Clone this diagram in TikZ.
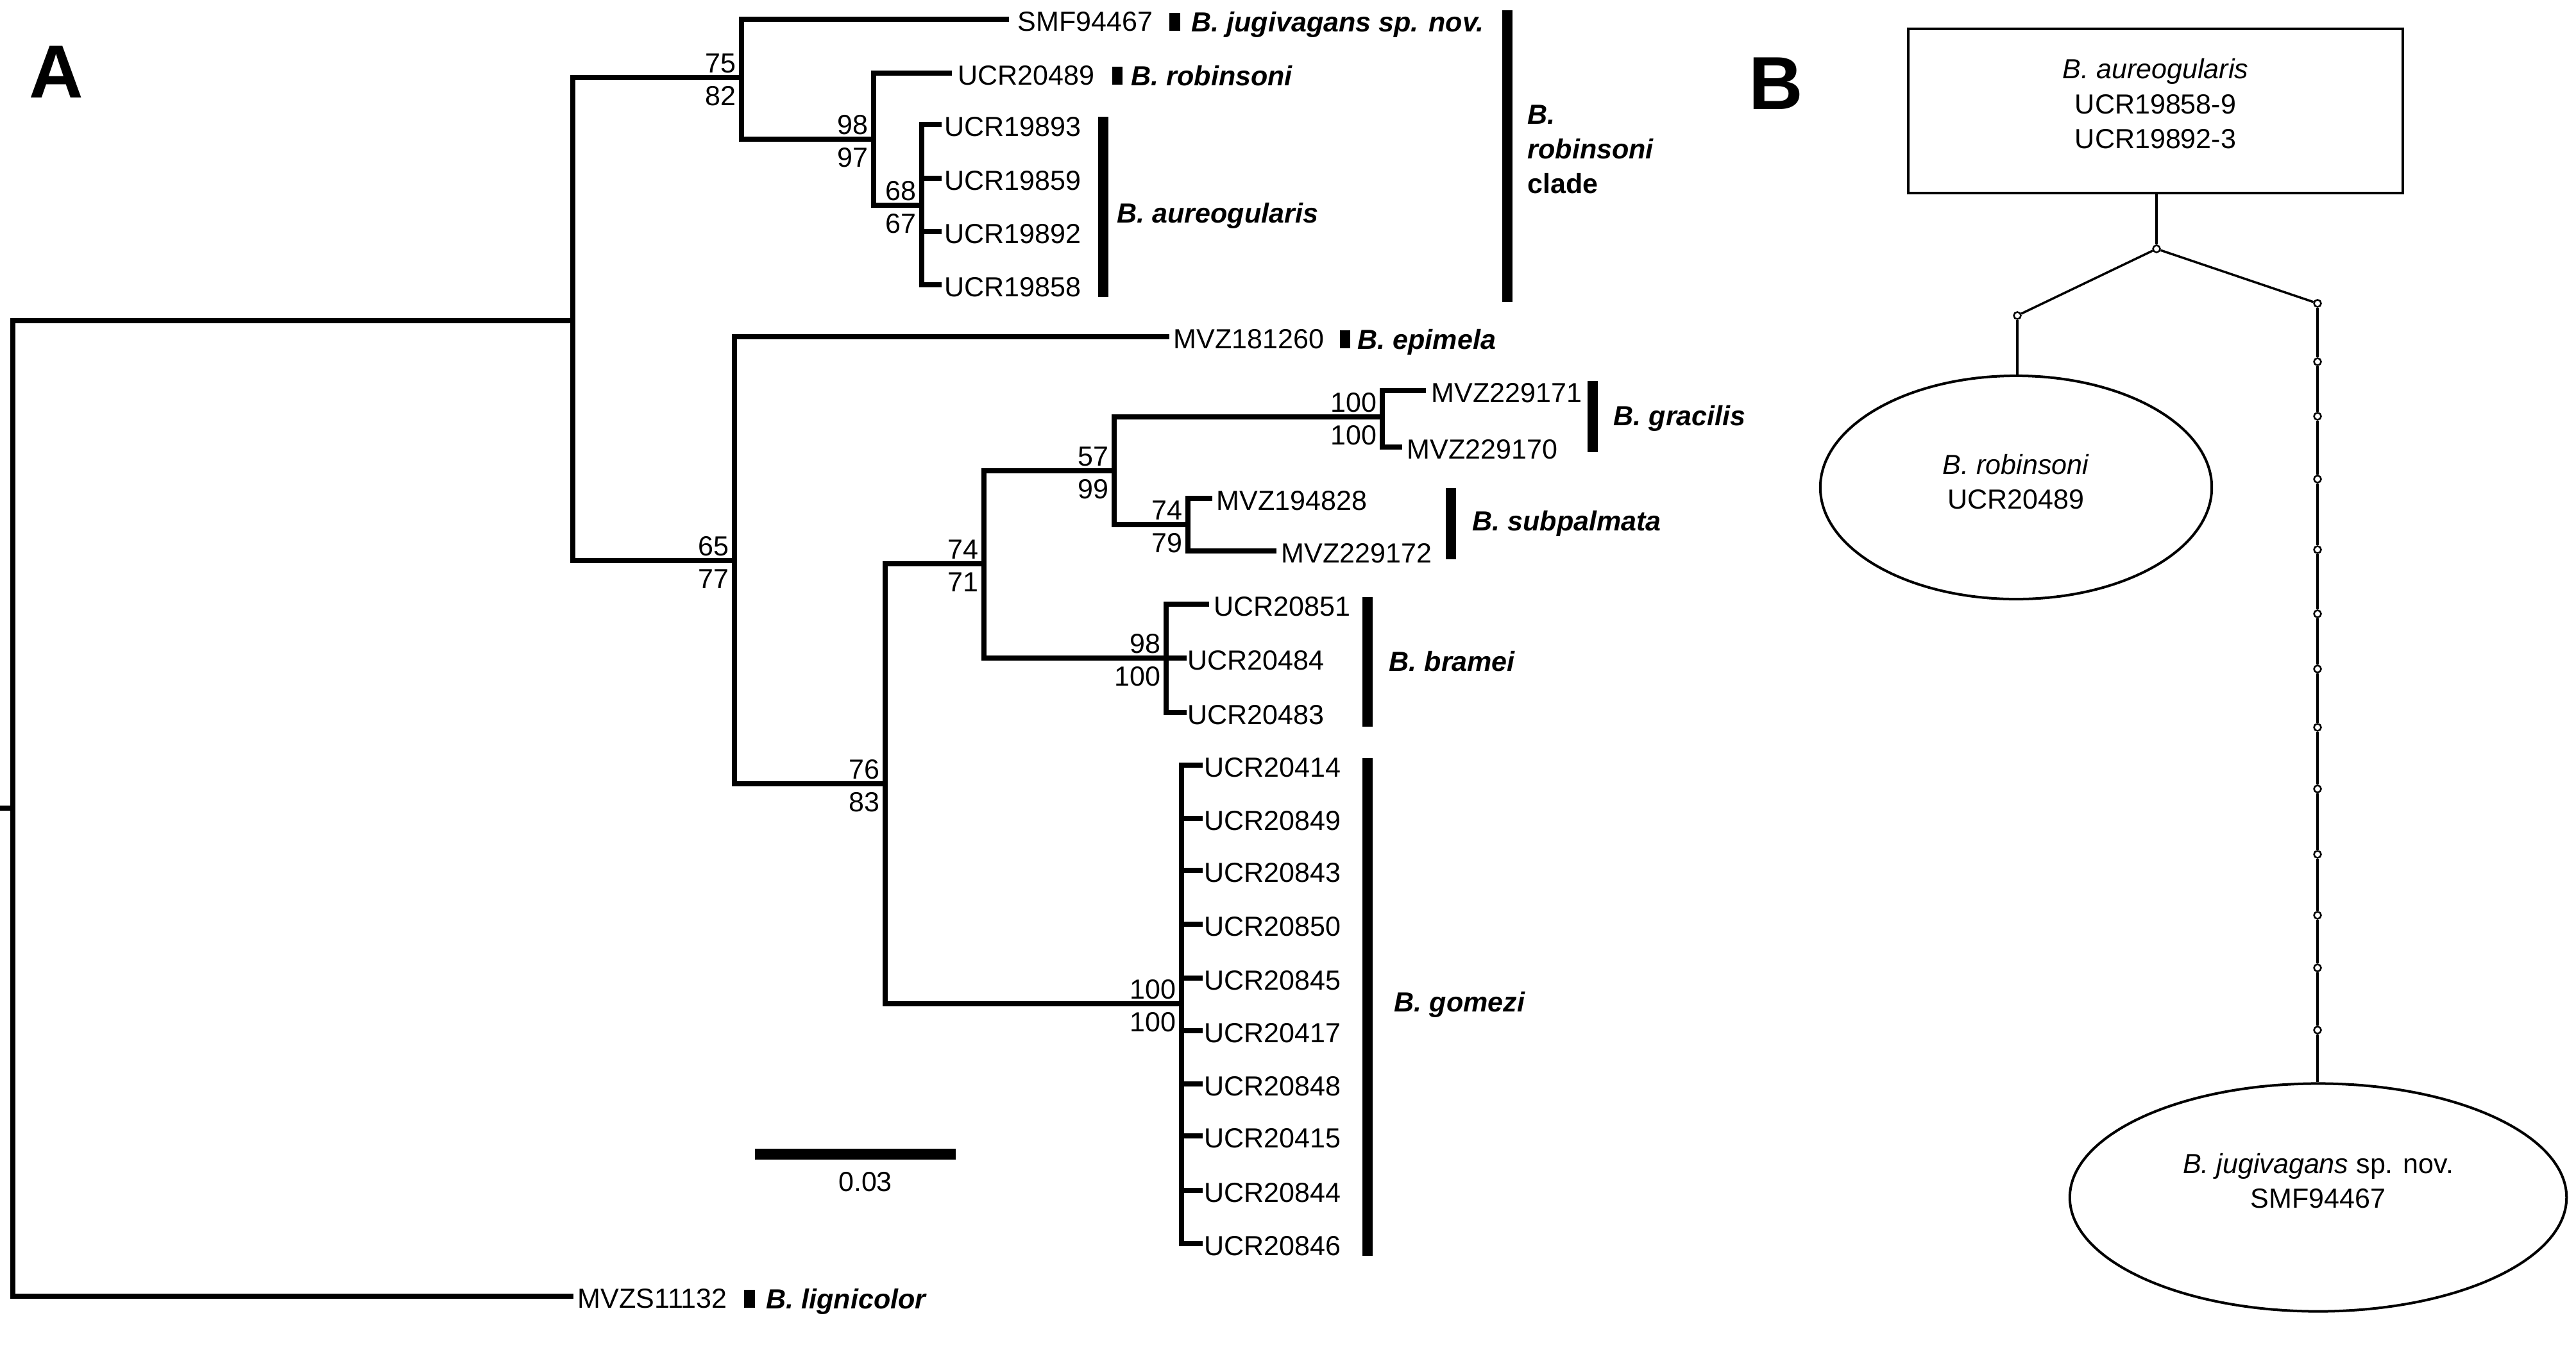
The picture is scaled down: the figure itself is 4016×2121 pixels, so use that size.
\documentclass[tikz,border=0pt]{standalone}
\usepackage{fontspec}
\setmainfont{Liberation Sans}
\usetikzlibrary{shapes.geometric}
\newcommand{\bsv}[5]{%
  \node[supu] (#1u) at (#2-8,#3-8) {#4};
  \node[supu] (#1d) at (#2-8,#3+43) {#5};}
\begin{document}
\begin{tikzpicture}[x=0.01cm,y=-0.01cm,
  br/.style={line width=0.08cm, line join=miter},
  cbar/.style={line width=0.16cm},
  tx/.style={inner sep=0, font=\fontsize{12.24pt}{15.4pt}\selectfont},
  leafl/.style={tx, anchor=base west},
  spl/.style={inner sep=0, anchor=base west, font=\fontsize{12.24pt}{15.4pt}\selectfont\bfseries\itshape},
  supu/.style={tx, anchor=base east},
  panel/.style={inner sep=0, anchor=base west, font=\fontsize{33.3pt}{40pt}\selectfont\bfseries},
  thinl/.style={line width=0.035cm},
  hap/.style={circle, draw, line width=0.025cm, fill=white, inner sep=0, minimum size=0.11cm},
  hapbox/.style={draw, line width=0.04cm, inner sep=0, align=center, font=\fontsize{12.24pt}{15.4pt}\selectfont},
  hapell/.style={ellipse, draw, line width=0.04cm, inner sep=0, align=center, font=\fontsize{12.24pt}{15.4pt}\selectfont}
]
\useasboundingbox (0,0) rectangle (4016,2121);

% ---------------- Panel A ----------------
\node[panel] (labA) at (45,152) {A};

% internal nodes
\coordinate (r0) at (0,1260);
\coordinate (root) at (20,1260);
\coordinate (n1) at (893,500);
\coordinate (n2) at (1156,121);
\coordinate (n3) at (1362,217);
\coordinate (n4) at (1437,320);
\coordinate (nl) at (1145,874);
\coordinate (n76) at (1380,1222);
\coordinate (n74) at (1534,879);
\coordinate (n57) at (1737,734);
\coordinate (ngr) at (2155,650);
\coordinate (nsu) at (1852,818);
\coordinate (nbr) at (1818,1026);
\coordinate (ngo) at (1842,1565);

% leaf ends
\coordinate (elig) at (894,2021);
\coordinate (esmf) at (1573,30);
\coordinate (erob) at (1484,114);
\coordinate (eepi) at (1823,525);
\coordinate (eg1) at (2223,609);
\coordinate (eg2) at (2186,697);
\coordinate (es1) at (1890,777);
\coordinate (es2) at (1990,859);
\coordinate (eb1) at (1885,942);
\coordinate (eb2) at (1850,1026);
\coordinate (eb3) at (1850,1111);

% branches
\draw[br] (r0) -- (root);
\draw[br] (root) |- (n1);
\draw[br] (root) |- (elig);
\draw[br] (n1) |- (n2);
\draw[br] (n1) |- (nl);
\draw[br] (n2) |- (esmf);
\draw[br] (n2) |- (n3);
\draw[br] (n3) |- (erob);
\draw[br] (n3) |- (n4);
\draw[br] (nl) |- (eepi);
\draw[br] (nl) |- (n76);
\draw[br] (n76) |- (n74);
\draw[br] (n76) |- (ngo);
\draw[br] (n74) |- (n57);
\draw[br] (n74) |- (nbr);
\draw[br] (n57) |- (ngr);
\draw[br] (n57) |- (nsu);
\draw[br] (ngr) |- (eg1);
\draw[br] (ngr) |- (eg2);
\draw[br] (nsu) |- (es1);
\draw[br] (nsu) |- (es2);
\draw[br] (nbr) |- (eb1);
\draw[br] (nbr) -- (eb2);
\draw[br] (nbr) |- (eb3);

% aureogularis leaves
\foreach \yy/\nm [count=\i] in {194/UCR19893,278/UCR19859,361/UCR19892,444/UCR19858}{
  \coordinate (ea\i) at (1468,\yy);
  \draw[br] (n4) |- (ea\i);
  \node[leafl] (la\i) at (1472,\yy+18) {\nm};
}
% gomezi leaves
\foreach \yy/\nm [count=\i] in {1193/UCR20414,1276/UCR20849,1357/UCR20843,1441/UCR20850,1525/UCR20845,1607/UCR20417,1690/UCR20848,1771/UCR20415,1856/UCR20844,1939/UCR20846}{
  \coordinate (ego\i) at (1875,\yy);
  \draw[br] (ngo) |- (ego\i);
  \node[leafl] (lgo\i) at (1877,\yy+18) {\nm};
}

% leaf labels
\node[leafl] (lsmf) at (1586,48) {SMF94467};
\node[leafl] (lrob) at (1493,132) {UCR20489};
\node[leafl] (lepi) at (1829,543) {MVZ181260};
\node[leafl] (lg1) at (2231,627) {MVZ229171};
\node[leafl] (lg2) at (2193,715) {MVZ229170};
\node[leafl] (ls1) at (1896,795) {MVZ194828};
\node[leafl] (ls2) at (1997,877) {MVZ229172};
\node[leafl] (lb1) at (1892,960) {UCR20851};
\node[leafl] (lb2) at (1851,1044) {UCR20484};
\node[leafl] (lb3) at (1851,1129) {UCR20483};
\node[leafl] (llig) at (900,2039) {MVZS11132};

% single-sample species markers
\fill (1823,20) rectangle (1840,48);
\fill (1734,104) rectangle (1750,132);
\fill (2089,515) rectangle (2105,543);
\fill (1160,2011) rectangle (1177,2039);
\node[spl] (sjug) at (1857,49) {B. jugivagans sp. nov.};
\node[spl] (srob) at (1763,133) {B. robinsoni};
\node[spl] (sepi) at (2116,544) {B. epimela};
\node[spl] (slig) at (1194,2040) {B. lignicolor};

% clade bars
\draw[cbar] (2350,16) -- (2350,471);
\draw[cbar] (1720,182) -- (1720,463);
\draw[cbar] (2483,594) -- (2483,705);
\draw[cbar] (2262,761) -- (2262,872);
\draw[cbar] (2132,931) -- (2132,1133);
\draw[cbar] (2132,1182) -- (2132,1958);

% clade labels
\node[spl] (caur) at (1741,347) {B. aureogularis};
\node[spl] (cgra) at (2515,663) {B. gracilis};
\node[spl] (csub) at (2295,827) {B. subpalmata};
\node[spl] (cbra) at (2165,1046) {B. bramei};
\node[spl] (cgom) at (2173,1577) {B. gomezi};
\node[tx, anchor=west, align=left, font=\fontsize{12.24pt}{15.4pt}\selectfont\bfseries] (crcl) at (2381,233)
  {\textit{B.}\\\textit{robinsoni}\\clade};

% support values
\bsv{s2}{1156}{121}{75}{82}
\bsv{s3}{1362}{217}{98}{97}
\bsv{s4}{1437}{320}{68}{67}
\bsv{sl}{1145}{874}{65}{77}
\bsv{s76}{1380}{1222}{76}{83}
\bsv{s74}{1534}{879}{74}{71}
\bsv{s57}{1737}{734}{57}{99}
\bsv{sgr}{2155}{650}{100}{100}
\bsv{ssu}{1852}{818}{74}{79}
\bsv{sbr}{1818}{1026}{98}{100}
\bsv{sgo}{1842}{1565}{100}{100}

% scale bar
\coordinate (sb1) at (1177,1799);
\coordinate (sb2) at (1490,1799);
\draw[line width=0.17cm] (sb1) -- (sb2);
\node[tx, anchor=base] (sbl) at (1349,1857) {0.03};

% ---------------- Panel B ----------------
\node[panel] (labB) at (2726,170) {B};

\node[hapbox, minimum width=7.71cm, minimum height=2.56cm, text depth=0.23cm] (aur) at (3360.5,173)
  {\textit{B. aureogularis}\\UCR19858-9\\UCR19892-3};
\node[hapell, minimum width=6.10cm, minimum height=3.48cm, text depth=0.19cm] (robE) at (3143,760)
  {\textit{B. robinsoni}\\UCR20489};
\node[hapell, minimum width=7.74cm, minimum height=3.55cm, text depth=0.53cm] (jugE) at (3614,1867)
  {\textit{B. jugivagans} sp. nov.\\SMF94467};

\node[hap] (hj) at (3362,388) {};
\node[hap] (hl) at (3145,492) {};
\node[hap] (hr) at (3613,473) {};
\foreach \yy [count=\i] in {564,649,747,857,957,1043,1134,1230,1332,1427,1509,1606}{
  \node[hap] (hm\i) at (3613,\yy) {};
}

\draw[thinl] (aur.south -| hj) -- (hj);
\draw[thinl] (hj) -- (hl);
\draw[thinl] (hj) -- (hr);
\draw[thinl] (hl) -- (hl |- robE.north);
\draw[thinl] (hr) -- (hm1);
\foreach \i [evaluate=\i as \j using int(\i+1)] in {1,...,11}{
  \draw[thinl] (hm\i) -- (hm\j);
}
\draw[thinl] (hm12) -- (hm12 |- jugE.north);
\end{tikzpicture}
\end{document}
